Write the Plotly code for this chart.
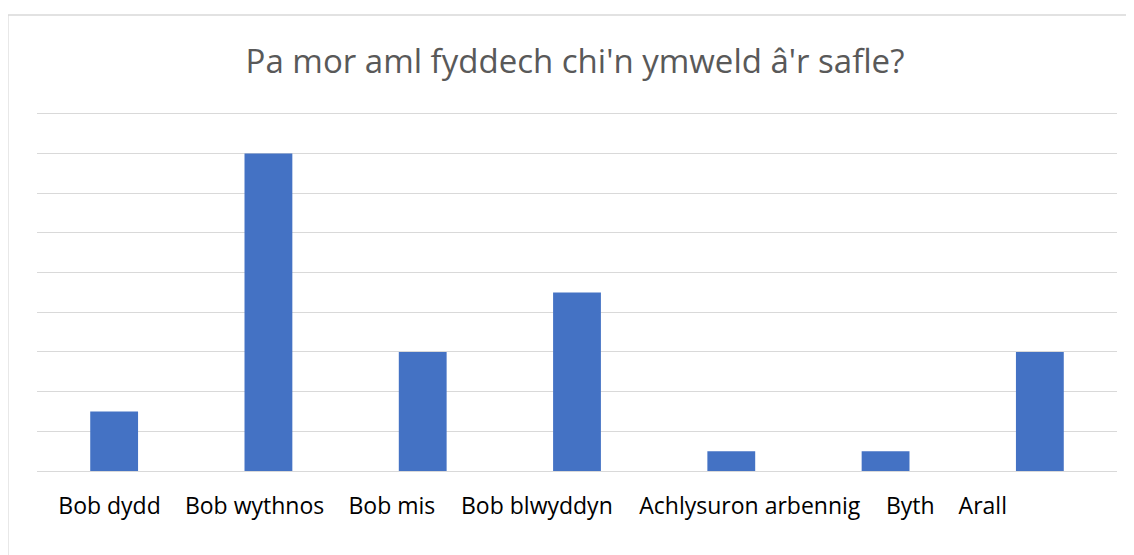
import plotly.graph_objects as go

categories = ['Bob dydd', 'Bob wythnos', 'Bob mis', 'Bob blwyddyn',
              'Achlysuron arbennig', 'Byth', 'Arall']
counts = [3, 16, 6, 9, 1, 1, 6]

# Excel squeezed the category labels off-centre; keep that look
label_pos = [-0.03, 0.91, 1.80, 2.74, 4.12, 5.16, 5.63]
grid_vals = [0, 2, 4, 6, 8, 10, 12, 14, 16, 18]

x_idx = list(range(len(categories)))

fig = go.Figure()
fig.add_trace(go.Bar(
    x=x_idx,
    y=counts,
    marker=dict(color='#4472C4', line=dict(width=0)),
    width=0.31,
    hovertext=categories,
))

fig.update_layout(
    width=1134,
    height=555,
    paper_bgcolor='white',
    plot_bgcolor='white',
    margin=dict(l=29, r=25, t=100, b=92),
    showlegend=False,
    title=dict(
        text="Pa mor aml fyddech chi'n ymweld â'r safle?",
        x=0.5, xanchor='center',
        y=0.903, yanchor='middle',
        font=dict(family='Open Sans', size=33, color='#595959'),
    ),
    xaxis=dict(
        range=[-0.5, len(categories) - 0.5],
        tickmode='array',
        tickvals=label_pos,
        ticktext=categories,
        tickangle=0,
        showgrid=False,
        zeroline=False,
        showline=False,
        ticks='',
        ticklabelstandoff=19,
        tickfont=dict(family='Open Sans', size=23, color='#000000'),
    ),
    yaxis=dict(
        range=[0, 18.3],
        tickvals=grid_vals,
        showticklabels=False,
        showgrid=True,
        gridcolor='#d9d9d9',
        gridwidth=1,
        zeroline=True,
        zerolinecolor='#d9d9d9',
        zerolinewidth=1,
    ),
    shapes=[dict(
        type='rect', xref='paper', yref='paper',
        x0=-0.027, x1=1.2, y0=-0.5, y1=1.256,
        line=dict(color='#d9d9d9', width=1.5),
        fillcolor='rgba(0,0,0,0)', layer='below',
    )],
)

fig.write_html("out.html")
